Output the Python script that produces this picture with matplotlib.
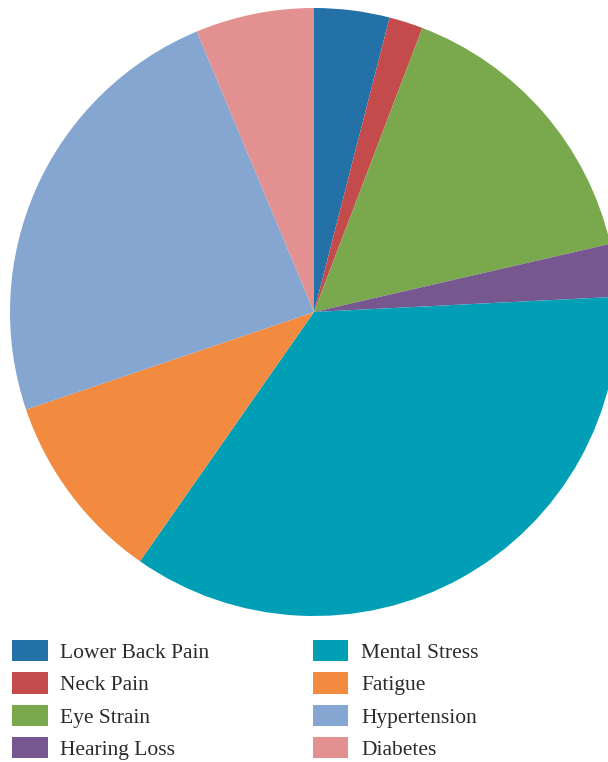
import matplotlib
matplotlib.use("Agg")
import matplotlib.pyplot as plt

# share of reported health complaints (%)
conditions = ["Lower Back Pain", "Neck Pain", "Eye Strain", "Hearing Loss",
              "Mental Stress", "Fatigue", "Hypertension", "Diabetes"]
shares = [4.0, 1.8, 15.6, 2.8, 35.5, 10.1, 23.9, 6.3]
colors = ["#2471a8", "#c44b4b", "#79a84d", "#76578f",
          "#009fb5", "#f28a3f", "#85a6d0", "#e39090"]

W, H = 608, 762
fig = plt.figure(figsize=(W / 100, H / 100), dpi=100)
ax = fig.add_axes([0, 0, 1, 1])

# axes in pixel units so the pie can run past the right edge
wedges, _ = ax.pie(shares, colors=colors, startangle=90, counterclock=False,
                   center=(314, H - 312), radius=304,
                   wedgeprops=dict(linewidth=0))
ax.set_xlim(0, W)
ax.set_ylim(0, H)
ax.set_aspect("equal")
ax.axis("off")

leg = fig.legend(wedges, conditions, ncol=2, loc="upper left",
                 bbox_to_anchor=(12 / W, 1 - 640 / H), frameon=False,
                 prop={"family": "Liberation Serif", "size": 15.5},
                 handlelength=1.65, handleheight=1.15, handletextpad=0.6,
                 columnspacing=4.8, labelspacing=0.435, borderpad=0,
                 borderaxespad=0)
for t in leg.get_texts():
    t.set_color("#2b2b2b")

fig.savefig("out.png", dpi=100)
